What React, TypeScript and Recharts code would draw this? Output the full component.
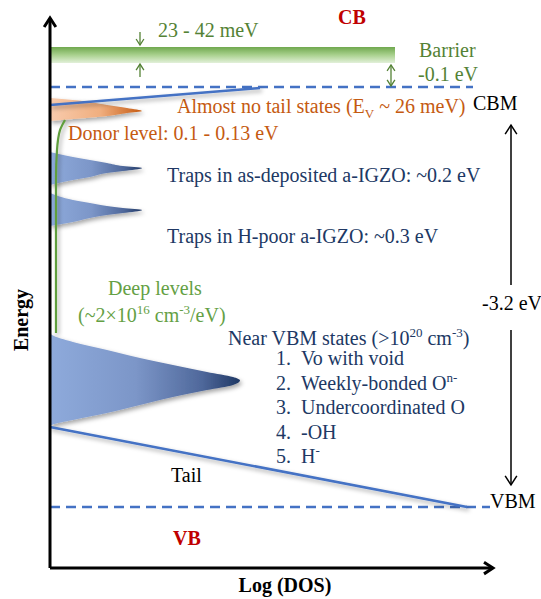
import React from 'react'
import { ComposedChart, XAxis, YAxis, Area, Line, ReferenceLine, ReferenceArea, Customized } from 'recharts'

// energy in eV from the VBM (VBM = 0, CBM = 3.2); dos is log(DOS) in arbitrary units
const cbm = 3.2
const vbm = 0
const axisBottom = -0.465
const axisTop = 3.726
const axisRight = 443
const barrier = { top: 3.505, bottom: 3.383, end: 345 }
const cbmLineEnd = 423
const vbmLineEnd = 440

const donorPeak = [
  { e: 3.116, dos: 0 },
  { e: 3.101, dos: 23 },
  { e: 3.063, dos: 57 },
  { e: 3.04, dos: 77 },
  { e: 3.017, dos: 92 },
  { e: 3.002, dos: 77 },
  { e: 2.979, dos: 57 },
  { e: 2.956, dos: 23 },
  { e: 2.941, dos: 0 },
]

const trapsAsDeposited = [
  { e: 2.705, dos: 0 },
  { e: 2.667, dos: 23 },
  { e: 2.644, dos: 40 },
  { e: 2.621, dos: 57 },
  { e: 2.598, dos: 73 },
  { e: 2.583, dos: 92 },
  { e: 2.56, dos: 73 },
  { e: 2.545, dos: 57 },
  { e: 2.514, dos: 40 },
  { e: 2.491, dos: 23 },
  { e: 2.453, dos: 0 },
]

const trapsHPoor = [
  { e: 2.392, dos: 0 },
  { e: 2.339, dos: 23 },
  { e: 2.316, dos: 40 },
  { e: 2.293, dos: 57 },
  { e: 2.278, dos: 73 },
  { e: 2.263, dos: 92 },
  { e: 2.24, dos: 73 },
  { e: 2.225, dos: 57 },
  { e: 2.202, dos: 40 },
  { e: 2.171, dos: 23 },
  { e: 2.141, dos: 0 },
]

const nearVbmStates = [
  { e: 1.326, dos: 0 },
  { e: 1.31, dos: 2 },
  { e: 1.257, dos: 23 },
  { e: 1.196, dos: 57 },
  { e: 1.135, dos: 90 },
  { e: 1.082, dos: 123 },
  { e: 1.029, dos: 157 },
  { e: 0.99, dos: 183 },
  { e: 0.964, dos: 190 },
  { e: 0.93, dos: 183 },
  { e: 0.891, dos: 157 },
  { e: 0.838, dos: 123 },
  { e: 0.777, dos: 90 },
  { e: 0.716, dos: 57 },
  { e: 0.663, dos: 23 },
  { e: 0.625, dos: 2 },
  { e: 0.61, dos: 0 },
]

const deepLevels = [
  { e: 2.949, dos: 15 },
  { e: 2.872, dos: 10 },
  { e: 2.796, dos: 8 },
  { e: 2.72, dos: 7 },
  { e: 2.5, dos: 6 },
  { e: 1.326, dos: 6 },
]

const cbTail = [
  { e: 3.192, dos: 210 },
  { e: 3.063, dos: 0 },
]

const vbTail = [
  { e: 0.61, dos: 0 },
  { e: 0, dos: 417 },
]

const vbmStates = ['Vo with void', 'Weekly-bonded O', 'Undercoordinated O', '-OH', 'H']
const vbmStateSup = ['', 'n-', '', '', '-']

const serif = '"Liberation Serif", "Times New Roman", serif'
const navy = '#203864'
const orange = '#c55a11'
const green = '#548235'
const blue = '#4472c4'
const red = '#c00000'

const chevron = (tx: number, ty: number, fx: number, fy: number, size: number, color: string, w: number) => {
  const len = Math.hypot(tx - fx, ty - fy) || 1
  const ux = (tx - fx) / len
  const uy = (ty - fy) / len
  const bx = tx - ux * size
  const by = ty - uy * size
  const half = size * 0.65
  return (
    <polyline
      points={`${bx - uy * half},${by + ux * half} ${tx},${ty} ${bx + uy * half},${by - ux * half}`}
      fill="none"
      stroke={color}
      strokeWidth={w}
    />
  )
}

const arrow = (color: string, w: number, size: number, both = false) => (p: any) => {
  const { x1, y1, x2, y2 } = p
  return (
    <g>
      <line x1={x1} y1={y1} x2={x2} y2={y2} stroke={color} strokeWidth={w} />
      {chevron(x2, y2, x1, y1, size, color, w)}
      {both && chevron(x1, y1, x2, y2, size, color, w)}
    </g>
  )
}

function Notes() {
  const t = { fontFamily: serif, fontSize: 20 }
  return (
    <g>
      <text x={338} y={24} {...t} fontWeight="bold" fill={red}>CB</text>
      <text x={158} y={37} {...t} fill={green}>23 - 42 meV</text>
      <text x={419} y={57} {...t} fill={green}>Barrier</text>
      <text x={418} y={81} {...t} fill={green}>-0.1 eV</text>
      <text x={177} y={113} {...t} fill={orange}>
        Almost no tail states (E<tspan dy={5} fontSize={13}>V</tspan><tspan dy={-5}> ~ 26 meV)</tspan>
      </text>
      <text x={473} y={110} {...t} fill="#000">CBM</text>
      <text x={68} y={140} {...t} fill={orange}>Donor level: 0.1 - 0.13 eV</text>
      <text x={167} y={182} {...t} fill={navy}>Traps in as-deposited a-IGZO: ~0.2 eV</text>
      <text x={167} y={243} {...t} fill={navy}>Traps in H-poor a-IGZO: ~0.3 eV</text>
      <text x={108} y={295} {...t} fill="#64a044">Deep levels</text>
      <text x={78} y={322} {...t} fill="#64a044">
        (~2×10<tspan dy={-8} fontSize={13}>16</tspan>
        <tspan dy={8}> cm</tspan>
        <tspan dy={-8} fontSize={13}>-3</tspan>
        <tspan dy={8}>/eV)</tspan>
      </text>
      <text x={482} y={310} {...t} fill="#000">-3.2 eV</text>
      <text x={228} y={345} {...t} fill={navy}>
        Near VBM states (&gt;10<tspan dy={-8} fontSize={13}>20</tspan>
        <tspan dy={8}> cm</tspan>
        <tspan dy={-8} fontSize={13}>-3</tspan>
        <tspan dy={8}>)</tspan>
      </text>
      {vbmStates.map((s, i) => (
        <g key={s}>
          <text x={276} y={365 + i * 24.5} {...t} fill={navy}>{`${i + 1}.`}</text>
          <text x={301} y={365 + i * 24.5} {...t} fill={navy}>
            {s}
            {vbmStateSup[i] && <tspan dy={-8} fontSize={13}>{vbmStateSup[i]}</tspan>}
          </text>
        </g>
      ))}
      <text x={171} y={482} {...t} fill="#000">Tail</text>
      <text x={490} y={508} {...t} fill="#000">VBM</text>
      <text x={173} y={545} {...t} fontWeight="bold" fill={red}>VB</text>
      <text x={28} y={320} {...t} fontWeight="bold" fill="#000" textAnchor="middle" transform="rotate(-90 28 320)">Energy</text>
      <text x={285} y={592} {...t} fontWeight="bold" fill="#000" textAnchor="middle">Log (DOS)</text>
    </g>
  )
}

export default function App() {
  return (
    <div style={{ position: 'absolute', left: 0, top: 0 }}>
      <style>{`.shade { filter: url(#soft); }`}</style>
      <ComposedChart width={541} height={599} layout="vertical" margin={{ top: 0, right: 0, bottom: 0, left: 0 }}>
        <defs>
          <linearGradient id="blueGrad" x1="0" y1="0" x2="1" y2="0">
            <stop offset="0%" stopColor="#8eaadb" />
            <stop offset="45%" stopColor="#7c96c8" />
            <stop offset="80%" stopColor="#4f689b" />
            <stop offset="100%" stopColor="#1f3864" />
          </linearGradient>
          <linearGradient id="orangeGrad" x1="0" y1="0" x2="1" y2="0">
            <stop offset="0%" stopColor="#f8cbad" />
            <stop offset="55%" stopColor="#f0ae7e" />
            <stop offset="100%" stopColor="#c55a11" />
          </linearGradient>
          <linearGradient id="barrierGrad" x1="0" y1="0" x2="0" y2="1">
            <stop offset="0%" stopColor="#6fa84e" />
            <stop offset="50%" stopColor="#a9d18e" />
            <stop offset="100%" stopColor="#e2f0d9" />
          </linearGradient>
          <filter id="soft" filterUnits="userSpaceOnUse" x="0" y="0" width="541" height="599">
            <feDropShadow dx="2" dy="2.5" stdDeviation="2" floodColor="#000" floodOpacity="0.35" />
          </filter>
        </defs>
        <XAxis type="number" dataKey="dos" domain={[-50, 491]} hide allowDataOverflow />
        <YAxis type="number" dataKey="e" domain={[-0.701, 3.863]} reversed hide allowDataOverflow />

        <ReferenceArea x1={0} x2={barrier.end} y1={barrier.bottom} y2={barrier.top} fill="url(#barrierGrad)" fillOpacity={1} stroke="none" ifOverflow="visible" />
        <ReferenceLine segment={[{ x: 0, y: cbm }, { x: cbmLineEnd, y: cbm }]} stroke={blue} strokeWidth={2.5} strokeDasharray="10 6" ifOverflow="visible" />
        <ReferenceLine segment={[{ x: 0, y: vbm }, { x: vbmLineEnd, y: vbm }]} stroke={blue} strokeWidth={2.5} strokeDasharray="10 6" ifOverflow="visible" />

        <Line className="shade" data={deepLevels} dataKey="dos" type="monotone" stroke="#5f9e3c" strokeWidth={2.2} dot={false} activeDot={false} isAnimationActive={false} />
        <Line className="shade" data={cbTail} dataKey="dos" type="linear" stroke={blue} strokeWidth={2.5} dot={false} activeDot={false} isAnimationActive={false} />
        <Line className="shade" data={vbTail} dataKey="dos" type="linear" stroke={blue} strokeWidth={2.5} dot={false} activeDot={false} isAnimationActive={false} />
        <Area className="shade" data={donorPeak} dataKey="dos" type="monotone" baseValue={0} fill="url(#orangeGrad)" fillOpacity={1} stroke="none" dot={false} activeDot={false} isAnimationActive={false} />
        <Area className="shade" data={trapsAsDeposited} dataKey="dos" type="monotone" baseValue={0} fill="url(#blueGrad)" fillOpacity={1} stroke="none" dot={false} activeDot={false} isAnimationActive={false} />
        <Area className="shade" data={trapsHPoor} dataKey="dos" type="monotone" baseValue={0} fill="url(#blueGrad)" fillOpacity={1} stroke="none" dot={false} activeDot={false} isAnimationActive={false} />
        <Area className="shade" data={nearVbmStates} dataKey="dos" type="monotone" baseValue={0} fill="url(#blueGrad)" fillOpacity={1} stroke="none" dot={false} activeDot={false} isAnimationActive={false} />

        <ReferenceLine segment={[{ x: 0, y: axisBottom }, { x: 0, y: axisTop }]} shape={arrow('#000', 3, 9)} ifOverflow="visible" />
        <ReferenceLine segment={[{ x: 0, y: axisBottom }, { x: axisRight, y: axisBottom }]} shape={arrow('#000', 3, 9)} ifOverflow="visible" />
        <ReferenceLine segment={[{ x: 90, y: 3.619 }, { x: 90, y: 3.52 }]} shape={arrow(green, 1.3, 6)} ifOverflow="visible" />
        <ReferenceLine segment={[{ x: 90, y: 3.276 }, { x: 90, y: 3.375 }]} shape={arrow(green, 1.3, 6)} ifOverflow="visible" />
        <ReferenceLine segment={[{ x: 341, y: 3.368 }, { x: 341, y: 3.208 }]} shape={arrow(green, 1.3, 6, true)} ifOverflow="visible" />
        <ReferenceLine segment={[{ x: 461, y: 1.691 }, { x: 461, y: 2.91 }]} shape={arrow('#000', 1.5, 9)} ifOverflow="visible" />
        <ReferenceLine segment={[{ x: 461, y: 1.349 }, { x: 461, y: 0.168 }]} shape={arrow('#000', 1.5, 9)} ifOverflow="visible" />

        <Customized component={<Notes />} />
      </ComposedChart>
    </div>
  )
}
